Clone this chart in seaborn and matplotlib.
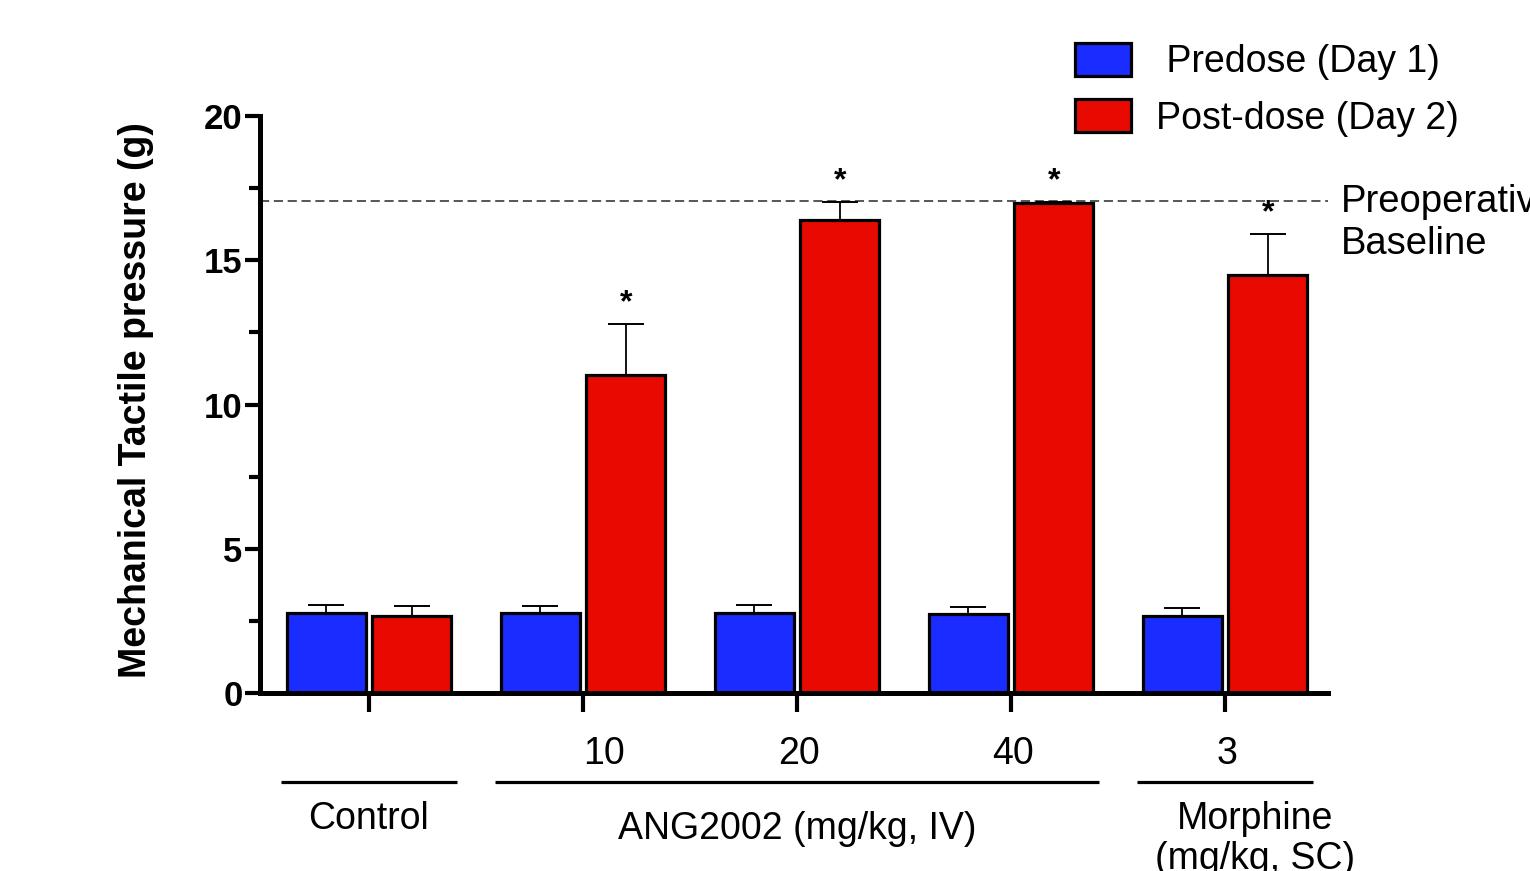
import numpy as np
import pandas as pd
import matplotlib
matplotlib.use("Agg")
import matplotlib.pyplot as plt
from matplotlib.patches import Patch
from matplotlib.transforms import blended_transform_factory
import seaborn as sns

# ---------------- data ----------------
groups = ["Control", "ANG2002 10", "ANG2002 20", "ANG2002 40", "Morphine 3"]
dose_labels = ["", "10", "20", "40", "3"]
series = [" Predose (Day 1)", "Post-dose (Day 2)"]
predose = [2.77, 2.76, 2.77, 2.74, 2.67]
predose_sem = [0.28, 0.27, 0.28, 0.24, 0.28]
postdose = [2.67, 11.02, 16.40, 16.98, 14.49]
postdose_sem = [0.35, 1.77, 0.62, 0.05, 1.42]
significant = [False, True, True, True, True]
baseline = 17.05
baseline_label = "Preoperative\nBaseline"
section_names = ["Control", "ANG2002 (mg/kg, IV)", "Morphine\n(mg/kg, SC)"]
section_members = [[0], [1, 2, 3], [4]]
ylabel = "Mechanical Tactile pressure (g)"
yticks = [0, 5, 10, 15, 20]
colors = ["#1a2cff", "#e80a00"]

# ---------------- style ----------------
sns.set_style("ticks")
plt.rcParams["font.family"] = ["Liberation Sans", "DejaVu Sans"]
plt.rcParams["text.color"] = "black"
plt.rcParams["axes.labelcolor"] = "black"
plt.rcParams["xtick.color"] = "black"
plt.rcParams["ytick.color"] = "black"

W, H = 1530, 871
fig = plt.figure(figsize=(W / 100, H / 100), dpi=100)
ax = fig.add_axes([260 / W, 1 - 693 / H, (1328 - 260) / W, (693 - 116) / H])

df = pd.DataFrame({
    "group": groups * 2,
    "series": [series[0]] * len(groups) + [series[1]] * len(groups),
    "value": predose + postdose,
})

sns.barplot(data=df, x="group", y="value", hue="series", order=groups,
            hue_order=series, palette=colors, errorbar=None, width=0.8,
            gap=0.08, edgecolor="black", linewidth=2.3, saturation=1,
            legend=False, ax=ax)

# error bars (upper only) and significance stars
for cont, sems, stars in zip(ax.containers, [predose_sem, postdose_sem],
                             [[False] * len(groups), significant]):
    xs = [b.get_x() + b.get_width() / 2 for b in cont]
    ys = [b.get_height() for b in cont]
    ax.errorbar(xs, ys, yerr=[np.zeros(len(sems)), sems], fmt="none",
                ecolor="black", elinewidth=1.3, capsize=13, capthick=1.4,
                zorder=3)
    for x, y, s, st in zip(xs, ys, sems, stars):
        if st:
            ax.annotate("*", xy=(x, y + s), xytext=(0, 15),
                        textcoords="offset points", ha="center", va="center",
                        fontsize=23, fontweight="bold", color="black")

# baseline
ax.axhline(baseline, color="#3a3a3a", lw=1.2, ls=(0, (5.5, 2.8)), zorder=0.5)
ax.annotate(baseline_label, xy=(1, baseline),
            xycoords=("axes fraction", "data"), xytext=(9, -16),
            textcoords="offset points", ha="left", va="center",
            fontsize=27.5, linespacing=1.22, annotation_clip=False,
            color="black")

# axes
ax.set_xlim(-0.509, 4.481)
ax.set_ylim(0, 20)
ax.set_yticks(yticks)
ax.set_yticks([(a + b) / 2 for a, b in zip(yticks[:-1], yticks[1:])], minor=True)
ax.set_xticks(range(len(groups)))
ax.set_xticklabels([])
ax.tick_params(axis="y", which="major", length=10.5, width=3, labelsize=25,
               pad=2, color="black", labelcolor="black")
ax.tick_params(axis="y", which="minor", length=8, width=3, color="black")
ax.tick_params(axis="x", length=14, width=3, color="black")
for lab in ax.get_yticklabels():
    lab.set_fontweight("bold")
sns.despine(ax=ax)
for side in ["left", "bottom"]:
    ax.spines[side].set_linewidth(3.6)
    ax.spines[side].set_color("black")
ax.set_xlabel("")
ax.set_ylabel(ylabel, fontsize=27, fontweight="bold", color="black")
ax.yaxis.set_label_coords((136 - 260) / 1068, (693 - 400) / 577)
ax.yaxis.label.set_va("center")

# group annotations below the axis
tr = blended_transform_factory(ax.transData, fig.transFigure)
dose_dx = [0, 0.1, 0.01, 0.01, 0.01]
for i, (lab, dx) in enumerate(zip(dose_labels, dose_dx)):
    if lab:
        ax.text(i + dx, 1 - 754 / H, lab, transform=tr, ha="center",
                va="center", fontsize=27, color="black")
sec_y = [801, 811, 801]
sec_dx = [0, 0, 0.14]
for name, mem, yy, dx in zip(section_names, section_members, sec_y, sec_dx):
    start, end = min(mem) - 0.41, max(mem) + 0.41
    ax.plot([start, end], [1 - 782 / H] * 2, transform=tr, color="black",
            lw=2.3, clip_on=False, solid_capstyle="butt")
    ax.text((start + end) / 2 + dx, 1 - yy / H, name, transform=tr,
            ha="center", va="top", fontsize=27, linespacing=1.15,
            color="black")

# legend
handles = [Patch(facecolor=c, edgecolor="black", linewidth=2.3) for c in colors]
fig.legend(handles, series, loc="upper left",
           bbox_to_anchor=(1075 / W, 1 - 43 / H), frameon=False, borderpad=0,
           borderaxespad=0, fontsize=27, handlelength=1.5, handleheight=0.98,
           handletextpad=0.66, labelspacing=0.5, labelcolor="black")

fig.savefig("out.png", dpi=100)
